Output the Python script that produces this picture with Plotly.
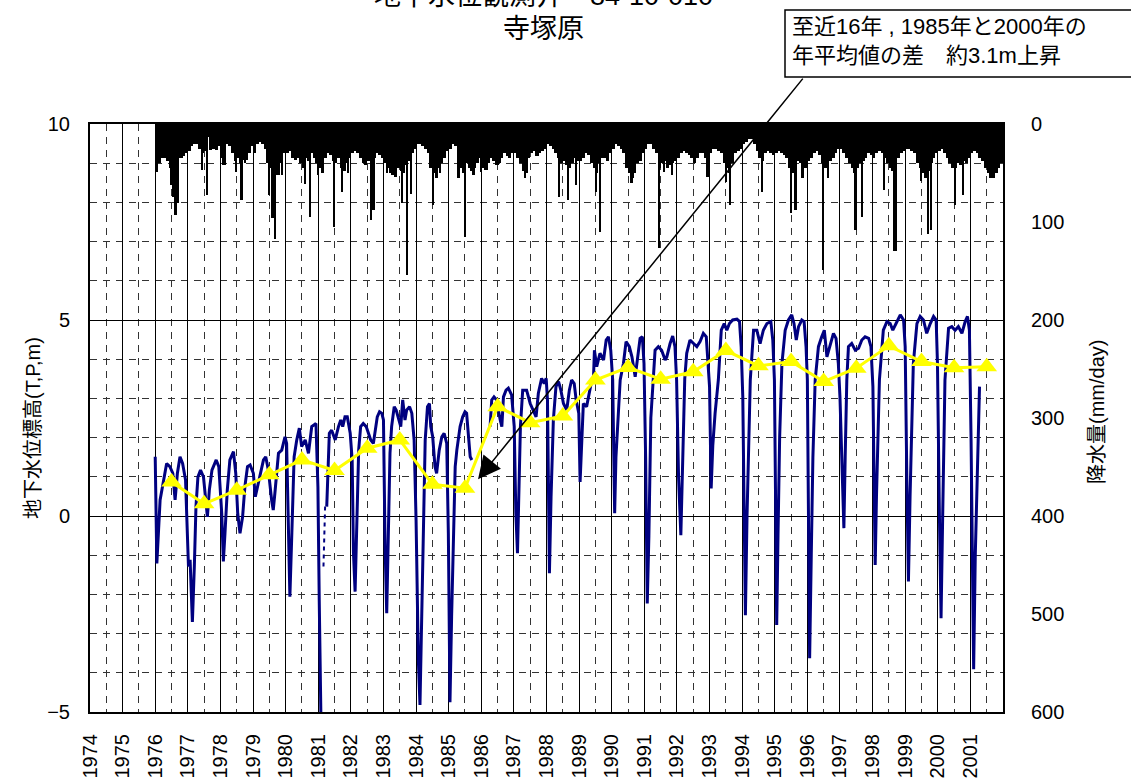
import plotly.graph_objects as go

# ---------------- data ----------------
year_labels = list(range(1974, 2002))

# groundwater level (T.P. m), decimal years; None = gap in record
gw_year = [
    1976.00, 1976.05, 1976.15, 1976.25, 1976.35, 1976.45, 1976.54, 1976.61, 1976.68, 1976.76, 1976.84, 1976.93,
    1977.02, 1977.07, 1977.14, 1977.20, 1977.25, 1977.31, 1977.39, 1977.48, 1977.55, 1977.60, 1977.66, 1977.74, 1977.87, 1977.95,
    1978.04, 1978.09, 1978.14, 1978.21, 1978.29, 1978.40, 1978.47, 1978.53, 1978.60, 1978.68, 1978.75, 1978.83, 1978.91,
    1979.01, 1979.07, 1979.14, 1979.24, 1979.32, 1979.39, 1979.47, 1979.57, 1979.62, 1979.67, 1979.78, 1979.88, 1979.98,
    1980.03, 1980.08, 1980.13, 1980.19, 1980.26, 1980.34, 1980.42, 1980.49, 1980.60, 1980.70, 1980.80, 1980.93, 1980.99,
    1981.03, 1981.08, None,
    1981.26, 1981.28, 1981.34, 1981.41, 1981.52, 1981.62, 1981.69, 1981.75, 1981.82, 1981.89, 1981.98,
    1982.04, 1982.08, 1982.13, 1982.18, 1982.24, 1982.30, 1982.38, 1982.47, 1982.54, 1982.61, 1982.69, 1982.76, 1982.81, 1982.88, 1982.95,
    1983.00, 1983.05, 1983.10, 1983.15, 1983.20, 1983.25, 1983.33, 1983.39, 1983.46, 1983.53, 1983.59, 1983.66, 1983.71, 1983.80, 1983.87, 1983.94,
    1984.00, 1984.07, 1984.12, 1984.17, 1984.22, 1984.28, 1984.35, 1984.41, 1984.45, 1984.51, 1984.58, 1984.63, 1984.71, 1984.79, 1984.86, 1984.94, 1984.99,
    1985.04, 1985.09, 1985.15, 1985.20, 1985.25, 1985.35, 1985.43, 1985.50, 1985.55, 1985.61, 1985.66, 1985.71, None,
    1986.27, 1986.32, 1986.39, 1986.47, 1986.58, 1986.63, 1986.68, 1986.76, 1986.83, 1986.93,
    1987.01, 1987.06, 1987.11, 1987.16, 1987.20, 1987.27, 1987.39, 1987.50, 1987.60, 1987.68, 1987.75, 1987.85, 1987.93, 1987.99,
    1988.03, 1988.06, 1988.09, 1988.14, 1988.21, 1988.29, 1988.37, 1988.44, 1988.52, 1988.62, 1988.70, 1988.77, 1988.85, 1988.91, 1988.99,
    1989.03, 1989.08, 1989.13, 1989.23, 1989.32, 1989.39, 1989.44, 1989.47, 1989.54, 1989.64, 1989.75, 1989.83, 1989.90, 1989.97,
    1990.03, 1990.09, 1990.13, 1990.19, 1990.26, 1990.36, 1990.44, 1990.54, 1990.62, 1990.72, 1990.79, 1990.87, 1990.94, 1990.99,
    1991.04, 1991.09, 1991.14, 1991.20, 1991.33, 1991.43, 1991.53, 1991.64, 1991.69, 1991.79, 1991.87, 1991.94, 1991.99,
    1992.05, 1992.12, 1992.18, 1992.24, 1992.30, 1992.40, 1992.51, 1992.61, 1992.71, 1992.81, 1992.90, 1992.95,
    1993.00, 1993.05, 1993.10, 1993.17, 1993.27, 1993.36, 1993.45, 1993.53, 1993.61, 1993.71, 1993.84, 1993.92, 1993.97,
    1994.02, 1994.07, 1994.10, 1994.15, 1994.20, 1994.25, 1994.35, 1994.45, 1994.55, 1994.65, 1994.76, 1994.88, 1994.94, 1994.99,
    1995.03, 1995.06, 1995.10, 1995.15, 1995.22, 1995.32, 1995.42, 1995.52, 1995.59, 1995.66, 1995.73, 1995.83, 1995.90, 1995.96,
    1996.00, 1996.04, 1996.07, 1996.12, 1996.17, 1996.24, 1996.34, 1996.44, 1996.52, 1996.60, 1996.70, 1996.80, 1996.88, 1996.95,
    1997.00, 1997.06, 1997.12, 1997.16, 1997.21, 1997.26, 1997.36, 1997.47, 1997.57, 1997.67, 1997.77, 1997.88, 1997.95,
    1998.01, 1998.05, 1998.08, 1998.12, 1998.16, 1998.21, 1998.33, 1998.44, 1998.54, 1998.62, 1998.72, 1998.85, 1998.95,
    1999.00, 1999.05, 1999.10, 1999.15, 1999.20, 1999.25, 1999.36, 1999.46, 1999.56, 1999.66, 1999.77, 1999.87, 1999.95, 1999.99,
    2000.05, 2000.10, 2000.15, 2000.19, 2000.22, 2000.33, 2000.43, 2000.53, 2000.63, 2000.74, 2000.84, 2000.91, 2000.97,
    2001.02, 2001.07, 2001.10, 2001.15, 2001.22, 2001.28,
]
gw_level = [
    1.51, -1.21, 0.41, 0.92, 1.34, 1.26, 1.09, 0.41, 1.09, 1.51, 1.34, 0.92,
    -1.29, -1.12, -2.70, -1.29, 0.24, 1.00, 1.17, 1.00, 0.41, -0.02, 0.66, 1.17, 1.43, 1.26,
    0.07, -1.16, -0.44, 0.66, 1.43, 1.64, 1.09, 0.07, -0.44, -0.02, 0.75, 1.26, 1.30,
    1.09, 0.49, 0.75, 1.09, 1.43, 1.51, 1.17, 0.41, 0.15, 0.58, 1.60, 1.68, 2.02,
    1.85, 0.24, -2.06, -0.44, 1.51, 1.94, 2.24, 1.77, 1.94, 1.60, 2.28, 2.36, 0.75,
    -2.14, -5.03, None,
    0.24, 0.75, 2.11, 2.19, 1.94, 2.28, 2.45, 2.28, 2.53, 2.53, 2.11,
    1.43, -0.95, -1.93, -0.44, 1.68, 2.28, 2.36, 2.28, 2.11, 1.94, 1.85, 2.19, 2.53, 2.66, 2.62,
    2.45, -0.78, -2.48, -0.44, 1.60, 2.28, 2.79, 2.70, 2.45, 2.28, 2.96, 2.45, 2.70, 2.79, 2.62, 1.94,
    -0.10, -3.67, -4.82, -2.57, -0.44, 1.94, 2.79, 2.87, 2.28, 2.02, 1.26, 1.09, 1.68, 2.02, 2.11, 1.85, -0.44,
    -4.75, -2.57, -0.44, 1.26, 1.68, 2.28, 2.53, 2.66, 2.62, 1.94, 1.51, 1.43, None,
    2.28, 2.96, 3.04, 2.96, 2.45, 2.28, 3.04, 3.21, 3.26, 3.09,
    2.28, 0.07, -0.95, 0.50, 2.28, 3.21, 3.21, 2.87, 2.66, 2.53, 3.13, 3.51, 3.38, 3.51,
    2.96, 0.92, -1.46, 0.50, 2.45, 3.30, 3.43, 3.21, 2.87, 2.70, 3.21, 3.47, 3.38, 2.96, 2.62,
    0.87, 1.80, 2.87, 2.79, 3.21, 3.47, 3.50, 4.23, 3.81, 4.15, 3.98, 4.49, 4.57, 4.23,
    3.47, 0.07, 1.50, 2.60, 3.47, 3.89, 4.45, 4.32, 4.06, 3.55, 3.98, 4.53, 4.57, 3.89,
    1.50, -2.23, -0.50, 2.50, 4.23, 4.32, 4.23, 3.98, 4.06, 4.40, 4.59, 4.32, 3.47,
    1.00, -0.49, 1.50, 3.50, 4.15, 4.49, 4.40, 4.32, 4.45, 4.66, 4.57, 3.98,
    3.30, 0.70, 1.80, 2.62, 3.47, 4.74, 4.91, 4.74, 4.91, 5.00, 5.02, 4.96, 4.32,
    3.04, -0.50, -2.53, 0.00, 2.00, 3.47, 4.74, 4.74, 4.40, 4.74, 4.91, 4.96, 4.49, 3.47,
    0.00, -2.78, -0.50, 2.00, 3.89, 4.74, 5.00, 5.13, 4.91, 4.49, 4.83, 5.00, 4.96, 4.32,
    3.47, -0.50, -3.63, -1.00, 1.50, 3.47, 4.32, 4.57, 4.74, 4.06, 4.40, 4.66, 4.53, 3.89,
    3.04, 1.00, -0.31, 1.50, 3.47, 4.32, 4.40, 4.23, 4.28, 4.49, 4.57, 4.53, 4.32,
    3.30, 0.50, -1.25, 0.50, 2.00, 3.47, 4.74, 4.96, 4.91, 4.74, 4.91, 5.13, 5.00,
    4.32, 1.00, -1.67, 0.50, 2.50, 3.89, 4.91, 5.09, 5.00, 4.66, 4.91, 5.09, 5.00, 3.89,
    0.00, -2.61, 0.00, 2.00, 3.47, 4.79, 4.83, 4.74, 4.83, 4.66, 4.96, 5.09, 4.74,
    2.00, -1.50, -3.91, -1.00, 1.77, 3.30,
]

# short broken (sparse) piece of record in early 1981
gw_gap_year = [1981.16, 1981.21]
gw_gap_level = [-1.29, 0.24]

# annual mean groundwater level (yellow triangles)
avg_year = list(range(1976, 2002))
avg_level = [0.87, 0.31, 0.66, 1.05, 1.43, 1.16, 1.73, 1.94, 0.81, 0.71,
             2.79, 2.38, 2.55, 3.47, 3.79, 3.49, 3.68, 4.22, 3.83, 3.94,
             3.43, 3.77, 4.34, 3.94, 3.78, 3.81]

# rainfall (mm/day): monthly depth of the dense black band, 1976-01 .. 2001-12
rain_start_year = 1976
rain_monthly_floor = [
    45, 40, 35, 35, 38, 45, 48, 40, 25, 35, 33, 30,   # 1976
    28, 22, 20, 20, 25, 30, 28, 13, 27, 25, 27, 22,   # 1977
    35, 42, 20, 22, 30, 38, 35, 40, 37, 37, 30, 22,   # 1978
    30, 20, 18, 20, 25, 40, 45, 52, 50, 52, 40, 30,   # 1979
    30, 28, 35, 37, 35, 40, 45, 35, 38, 30, 35, 40,   # 1980
    45, 50, 35, 30, 32, 38, 40, 35, 45, 48, 40, 35,   # 1981
    30, 28, 30, 35, 40, 42, 38, 45, 35, 30, 32, 35,   # 1982
    40, 45, 50, 52, 54, 45, 48, 50, 42, 38, 30, 25,   # 1983
    20, 20, 22, 25, 30, 45, 50, 42, 45, 40, 35, 28,   # 1984
    25, 20, 22, 35, 45, 50, 40, 45, 48, 45, 40, 35,   # 1985
    45, 47, 40, 35, 38, 42, 40, 35, 30, 33, 35, 30,   # 1986
    30, 35, 40, 48, 50, 35, 30, 28, 33, 30, 28, 25,   # 1987
    20, 22, 25, 30, 35, 40, 38, 42, 45, 40, 35, 38,   # 1988
    38, 35, 30, 32, 40, 45, 50, 40, 35, 35, 38, 30,   # 1989
    25, 20, 22, 25, 30, 45, 50, 55, 50, 40, 38, 30,   # 1990
    25, 20, 20, 25, 30, 45, 40, 38, 45, 42, 40, 38,   # 1991
    35, 30, 28, 30, 32, 35, 40, 35, 30, 30, 35, 40,   # 1992
    30, 25, 25, 28, 30, 40, 45, 50, 40, 30, 28, 25,   # 1993
    20, 18, 15, 15, 20, 28, 35, 38, 30, 28, 30, 32,   # 1994
    30, 28, 30, 32, 35, 45, 50, 40, 38, 40, 42, 45,   # 1995
    38, 35, 30, 28, 32, 40, 45, 40, 38, 35, 30, 25,   # 1996
    25, 30, 35, 40, 45, 50, 45, 40, 38, 35, 30, 32,   # 1997
    35, 30, 28, 30, 35, 40, 45, 48, 40, 35, 30, 28,   # 1998
    25, 25, 28, 30, 40, 45, 50, 55, 48, 40, 35, 30,   # 1999
    28, 25, 30, 35, 40, 45, 45, 40, 42, 38, 40, 35,   # 2000
    30, 28, 30, 35, 38, 45, 50, 55, 52, 50, 45, 40,   # 2001
]

# individual heavy-rain days (spikes below the band)
rain_spike_year = [
    1976.04, 1976.48, 1976.56, 1976.62, 1976.68, 1977.43, 1977.58, 1978.07, 1978.47, 1978.65, 1978.75,
    1979.49, 1979.60, 1979.67, 1979.75, 1979.88, 1980.60, 1980.75, 1981.00, 1981.48, 1981.72, 1981.92,
    1982.61, 1982.69, 1983.10, 1983.36, 1983.56, 1983.73, 1983.85, 1984.53, 1984.63, 1984.74,
    1985.30, 1985.50, 1985.76, 1986.00, 1986.17, 1986.51, 1987.34, 1988.38, 1988.66, 1988.90,
    1989.52, 1989.65, 1990.61, 1991.46, 1991.60, 1991.85, 1992.94, 1993.51, 1993.62, 1994.60,
    1995.49, 1995.64, 1995.85, 1996.47, 1996.63, 1997.48, 1997.68, 1998.34, 1998.65, 1998.70,
    1999.48, 1999.69, 1999.79, 2000.52, 2000.78, 2001.45, 2001.71,
]
rain_spike_mm = [
    49, 62, 74, 93, 81, 47, 72, 42, 49, 78, 40,
    72, 96, 117, 52, 52, 61, 95, 52, 105, 69, 50,
    98, 88, 50, 54, 81, 154, 71, 83, 55, 50,
    55, 115, 52, 49, 47, 42, 55, 74, 78, 62,
    69, 110, 60, 127, 49, 52, 54, 59, 83, 69,
    91, 88, 55, 149, 55, 108, 95, 67, 130, 130,
    58, 112, 108, 83, 72, 44, 55,
]

# ---------------- figure ----------------
FONT = "Liberation Sans, Noto Sans CJK JP, sans-serif"
W, H = 1131, 781
L, R, T, B = 90, 128, 124, 69
PW, PH = W - L - R, H - T - B


def px(xp):
    return (xp - L) / PW


def py(yp):
    return (H - B - yp) / PH


floor_x = [rain_start_year + i / 12 + 1 / 24 for i in range(len(rain_monthly_floor))]

fig = go.Figure()
fig.add_trace(go.Bar(x=floor_x, y=rain_monthly_floor, width=1 / 12 + 0.012, yaxis="y2",
                     marker=dict(color="black", line=dict(width=0))))
fig.add_trace(go.Bar(x=rain_spike_year, y=rain_spike_mm, width=0.07, yaxis="y2",
                     marker=dict(color="black", line=dict(width=0))))
fig.add_trace(go.Scatter(x=gw_year, y=gw_level, mode="lines", connectgaps=False,
                         line=dict(color="#000080", width=3)))
fig.add_trace(go.Scatter(x=gw_gap_year, y=gw_gap_level, mode="lines",
                         line=dict(color="#000080", width=2, dash="4px,4px")))
fig.add_trace(go.Scatter(x=[y + 0.5 for y in avg_year], y=avg_level, mode="lines+markers",
                         line=dict(color="#FFFF00", width=3),
                         marker=dict(symbol="triangle-up", size=18, color="#FFFF00")))

minor_x = [y + 0.5 for y in year_labels]
fig.update_layout(
    width=W, height=H,
    margin=dict(l=L, r=R, t=T, b=B, autoexpand=False),
    paper_bgcolor="white", plot_bgcolor="white",
    showlegend=False, barmode="overlay", bargap=0,
    font=dict(family=FONT, size=20, color="black"),
    xaxis=dict(range=[1974, 2002], tickmode="array", tickvals=year_labels,
               ticktext=[str(y) for y in year_labels], tickangle=-90,
               showgrid=True, gridcolor="black", gridwidth=1,
               minor=dict(tickmode="array", tickvals=minor_x, showgrid=True,
                          gridcolor="#333333", gridwidth=1, griddash="7px,6px"),
               showline=True, linecolor="black", linewidth=2, mirror=True,
               zeroline=False, ticks="", ticklabelstandoff=12, automargin=False,
               tickfont=dict(size=20)),
    yaxis=dict(range=[-5, 10], tickmode="array", tickvals=[-5, 0, 5, 10],
               showgrid=True, gridcolor="black", gridwidth=1,
               minor=dict(tickmode="array", tickvals=[-4, -3, -2, -1, 1, 2, 3, 4, 6, 7, 8, 9],
                          showgrid=True, gridcolor="#333333", gridwidth=1, griddash="7px,6px"),
               showline=True, linecolor="black", linewidth=2, mirror=True,
               zeroline=False, ticks="", ticklabelstandoff=14, automargin=False,
               tickfont=dict(size=20)),
    yaxis2=dict(range=[600, 0], overlaying="y", side="right", tickmode="array",
                tickvals=[0, 100, 200, 300, 400, 500, 600], showgrid=False, zeroline=False,
                showline=True, linecolor="black", linewidth=2, ticks="", automargin=False,
                ticklabelstandoff=22, tickfont=dict(size=20)),
)

ann = []
# titles
ann.append(dict(text="地下水位観測井　84-10-010", x=px(543), y=py(-4), xref="paper", yref="paper",
                showarrow=False, xanchor="center", yanchor="middle", font=dict(size=27)))
ann.append(dict(text="寺塚原", x=px(543), y=py(29), xref="paper", yref="paper",
                showarrow=False, xanchor="center", yanchor="middle", font=dict(size=27)))
# axis titles
ann.append(dict(text="地下水位標高(T,P,m)", x=px(33), y=py(428), xref="paper", yref="paper",
                showarrow=False, textangle=-90, xanchor="center", yanchor="middle", font=dict(size=20)))
ann.append(dict(text="降水量(mm/day)", x=px(1097), y=py(412), xref="paper", yref="paper",
                showarrow=False, textangle=-90, xanchor="center", yanchor="middle", font=dict(size=20)))
# comment box text
ann.append(dict(text="至近16年 , 1985年と2000年の", x=px(790), y=py(27), xref="paper", yref="paper",
                showarrow=False, xanchor="left", yanchor="middle", font=dict(size=22)))
ann.append(dict(text="年平均値の差　約3.1m上昇", x=px(790), y=py(55), xref="paper", yref="paper",
                showarrow=False, xanchor="left", yanchor="middle", font=dict(size=22)))
# arrow
ann.append(dict(text="", x=1985.90, y=0.94, xref="x", yref="y", showarrow=True,
                ax=326, ay=-402, axref="pixel", ayref="pixel",
                arrowhead=2, arrowsize=3, arrowwidth=1.5, arrowcolor="black", standoff=0))
fig.update_layout(annotations=ann)

fig.add_shape(type="rect", xref="paper", yref="paper",
              x0=px(785), x1=px(1145), y0=py(77), y1=py(10),
              line=dict(color="black", width=1.5), fillcolor="rgba(0,0,0,0)")

fig.write_html("out.html", config={"displayModeBar": False},
               post_script="document.body.style.margin='0';")
